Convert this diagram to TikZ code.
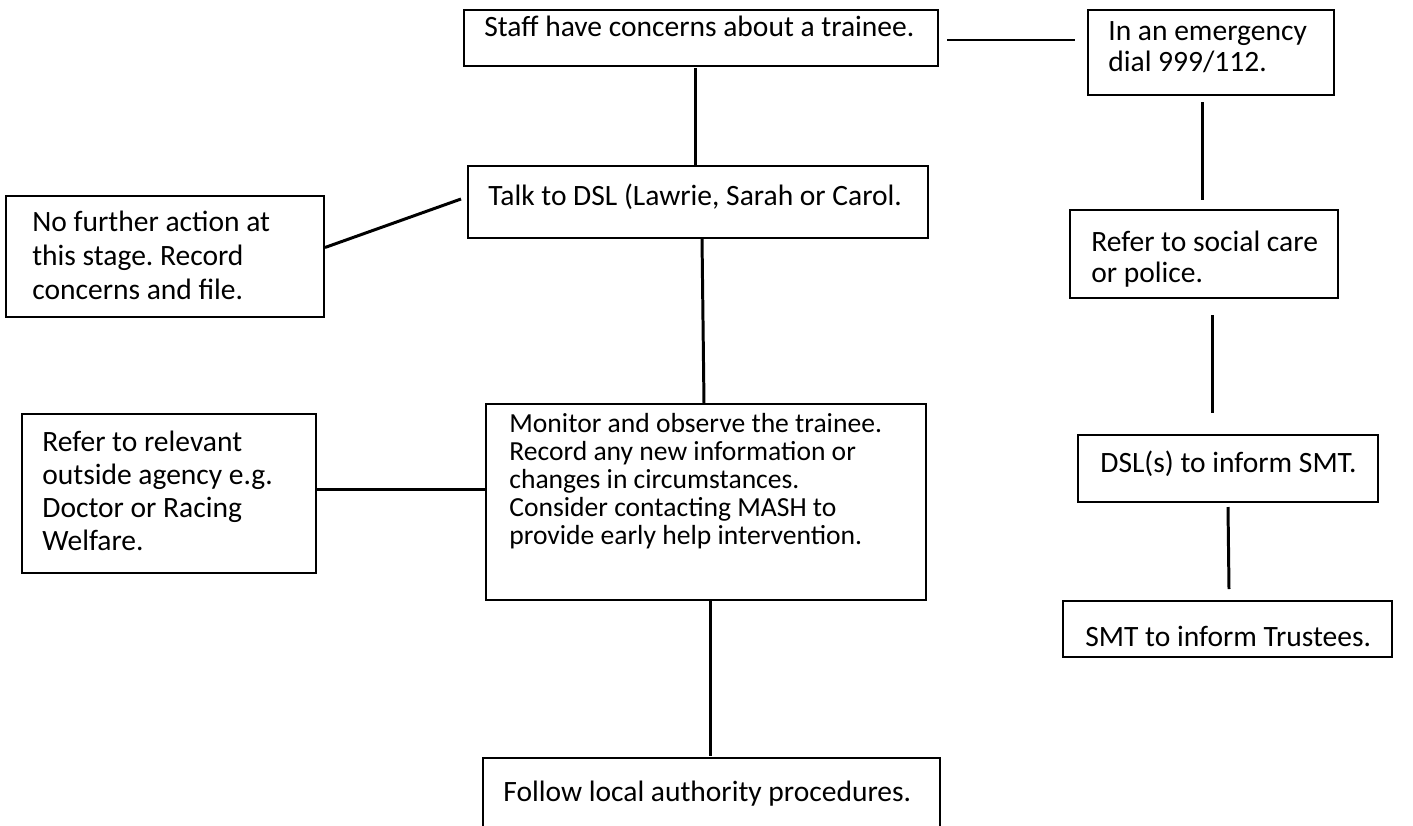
\documentclass[tikz,border=0pt]{standalone}
\usepackage{fontspec}
\setmainfont{Carlito}
\usetikzlibrary{calc}
\frenchspacing
\newcommand{\px}{0.02cm}
\newcommand{\flowbox}[8][]{
  \node[box, minimum width={(#5-#3)*\px}, minimum height={(#6-#4)*\px}]
    (#2) at (#3, #4) {};
  \node[boxtext, #1] (#2 text) at ($(#2.north west) + (#7)$)
    {\begin{tabular}[t]{@{}l@{}}#8\end{tabular}};
}
\tikzset{
  box/.style={draw, line width=0.6pt, anchor=north west, inner sep=0pt,
    outer sep=0pt},
  boxtext/.style={anchor=base west, inner sep=0pt,
    font=\fontsize{16.8}{18.6}\selectfont},
  link/.style={line width=1.7pt},
}

\begin{document}
\begin{tikzpicture}[x=\px, y=-\px]
  \useasboundingbox (0,0) rectangle (1413,825);
  % boxes
  \flowbox{staff}{464}{10}{938}{66}{20,26}{Staff have concerns about a trainee.}
  \flowbox[font=\fontsize{16.8}{18.2}\selectfont]{emerg}{1088}{10}{1334}{95}{20,30}
    {In an emergency\\dial 999/112.}
  \flowbox{talk}{468}{166}{928}{238}{20,39}{Talk to DSL (Lawrie, Sarah or Carol.}
  \flowbox[font=\fontsize{16.8}{19.6}\selectfont]{nofurther}{6}{196}{324}{317}{26,35}
    {No further action at\\this stage. Record\\concerns and file.}
  \flowbox[font=\fontsize{16.8}{18.2}\selectfont]{refersoc}{1070}{210}{1338}{298}{21,41}
    {Refer to social care\\or police.}
  \flowbox[font=\fontsize{15.7}{16.05}\selectfont]{monitor}{486}{404}{926}{600}{23,28}
    {Monitor and observe the trainee.\\Record any new information or\\
     changes in circumstances.\\Consider contacting MASH to\\
     provide early help intervention.}
  \flowbox[font=\fontsize{16.8}{18.9}\selectfont]{agency}{22}{414}{316}{573}{20,37}
    {Refer to relevant\\outside agency e.g.\\Doctor or Racing\\Welfare.}
  \flowbox{dsls}{1078}{435}{1378}{502}{22,37}{DSL(s) to inform SMT.}
  \flowbox{smt}{1063}{601}{1392}{657}{22,45}{SMT to inform Trustees.}
  \flowbox{follow}{483}{758}{940}{845}{20,43}{Follow local authority procedures.}
  % connectors
  \draw[link] ($(staff.east)+(9,2)$) -- ($(emerg.west |- staff.east)+(-13,2)$);
  \draw[link] ($(staff.south)+(-6,2)$) -- ($(talk.north)+(-3,0)$);
  \draw[link] ($(talk.west)+(-7,-3)$) -- ($(nofurther.east)+(1,-9)$);
  \draw[link] ($(talk.south)+(4,0)$) -- ($(monitor.north)+(-2,0)$);
  \draw[link] ($(monitor.west)+(0,-13)$) -- ($(agency.east |- monitor.west)+(0,-13)$);
  \draw[link] ($(monitor.south)+(4,0)$) -- ($(follow.north)+(-1.5,-2)$);
  \draw[link] ($(emerg.south)+(-9,7)$) -- ($(refersoc.north)+(-2,-10)$);
  \draw[link] ($(refersoc.south)+(8,17)$) -- ($(dsls.north)+(-16,-22)$);
  \draw[link] ($(dsls.south)+(0,5)$) -- ($(smt.north)+(1.5,-12)$);
\end{tikzpicture}
\end{document}
